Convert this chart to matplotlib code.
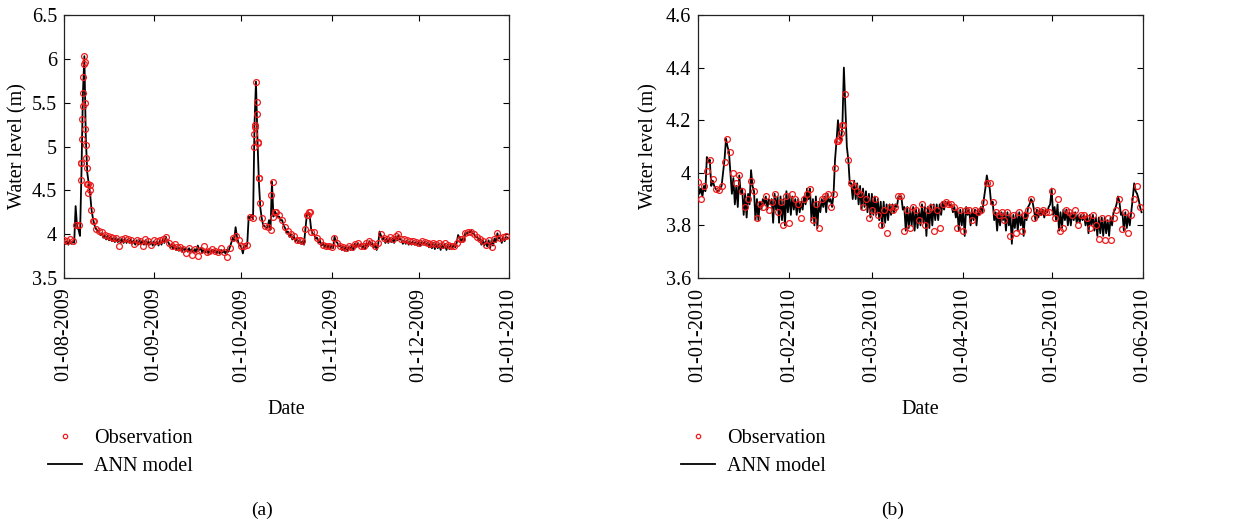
import numpy as np
import matplotlib
matplotlib.use("Agg")
import matplotlib.pyplot as plt
import matplotlib.dates as mdates
from matplotlib.ticker import FuncFormatter, MultipleLocator

plt.rcParams['font.family'] = ['Liberation Serif', 'DejaVu Serif']

# ---- panel (a): 01-08-2009 .. 01-01-2010, one value per day ----
start_a = np.datetime64('2009-08-01')
end_a = np.datetime64('2010-01-01')

obs_a = [3.93, 3.92, 3.94, 3.92, 4.11, 4.10, 4.81, 6.03, 4.57, 4.50,
         4.15, 4.06, 4.04, 4.02, 3.99, 3.98, 3.97, 3.96, 3.96, 3.87,
         3.95, 3.96, 3.94, 3.93, 3.89, 3.93, 3.92, 3.87, 3.94, 3.92,
         3.88, 3.93, 3.92, 3.93, 3.94, 3.97, 3.90, 3.86, 3.89, 3.85,
         3.85, 3.83, 3.79, 3.84, 3.76, 3.83, 3.75, 3.82, 3.87, 3.80,
         3.81, 3.83, 3.81, 3.80, 3.84, 3.80, 3.74, 3.84, 3.96, 3.98,
         3.93, 3.86, 3.87, 3.88, 4.20, 4.18, 5.74, 4.64, 4.19, 4.09,
         4.08, 4.05, 4.20, 4.25, 4.22, 4.16, 4.08, 4.04, 4.00, 3.98,
         3.93, 3.93, 3.92, 4.06, 4.22, 4.03, 4.02, 3.96, 3.92, 3.88,
         3.87, 3.87, 3.85, 3.96, 3.90, 3.87, 3.85, 3.84, 3.87, 3.85,
         3.89, 3.90, 3.87, 3.87, 3.90, 3.92, 3.90, 3.87, 3.90, 4.00,
         3.96, 3.94, 3.97, 3.95, 3.98, 4.00, 3.94, 3.94, 3.93, 3.92,
         3.92, 3.91, 3.90, 3.92, 3.91, 3.90, 3.89, 3.90, 3.89, 3.90,
         3.88, 3.90, 3.88, 3.87, 3.87, 3.90, 3.94, 3.95, 4.01, 4.02,
         4.03, 4.00, 3.97, 3.95, 3.92, 3.88, 3.93, 3.85, 3.95, 4.01,
         3.96, 3.97, 3.98]

# extra observations during the two floods (day offset, level)
obs_a_extra_day = [5.7, 6.0, 6.2, 6.3, 6.45, 6.55, 6.7, 6.85, 7.05, 7.2,
                   7.35, 7.55, 7.7, 7.9, 8.1, 8.25, 8.9, 9.4, 10.2,
                   65.2, 65.35, 65.5, 65.6, 66.2, 66.3, 66.6, 66.75, 66.95,
                   67.3, 71.3, 71.7, 72.5, 83.5, 84.3, 84.7]
obs_a_extra_val = [4.62, 4.81, 5.09, 5.31, 5.46, 5.61, 5.79, 5.94, 5.96, 5.50,
                   5.20, 5.02, 4.87, 4.75, 4.57, 4.47, 4.56, 4.28, 4.15,
                   4.99, 5.14, 5.22, 5.25, 5.51, 5.37, 5.05, 5.04, 4.64,
                   4.36, 4.45, 4.60, 4.25, 4.22, 4.25, 4.25]

# ANN model at 00h and 12h of each day
ann_a = [3.93, 3.92, 3.93, 3.92, 4.32, 4.05, 4.70, 6.03, 4.70, 4.45,
         4.17, 4.06, 4.03, 4.01, 3.99, 3.98, 3.97, 3.96, 3.96, 3.95,
         3.95, 3.95, 3.94, 3.94, 3.93, 3.93, 3.93, 3.93, 3.93, 3.92,
         3.92, 3.92, 3.92, 3.93, 3.94, 3.97, 3.90, 3.88, 3.88, 3.86,
         3.85, 3.85, 3.84, 3.84, 3.83, 3.83, 3.87, 3.84, 3.83, 3.82,
         3.82, 3.82, 3.82, 3.81, 3.82, 3.81, 3.82, 3.85, 3.96, 4.08,
         3.90, 3.85, 3.87, 3.88, 4.18, 4.17, 5.74, 4.60, 4.18, 4.09,
         4.08, 4.05, 4.20, 4.23, 4.20, 4.16, 4.07, 4.03, 4.00, 3.98,
         3.95, 3.93, 3.92, 4.06, 4.25, 4.05, 4.00, 3.96, 3.93, 3.90,
         3.89, 3.88, 3.88, 3.97, 3.90, 3.87, 3.86, 3.86, 3.86, 3.87,
         3.89, 3.90, 3.88, 3.87, 3.90, 3.92, 3.90, 3.88, 3.88, 3.98,
         3.96, 3.95, 3.96, 3.95, 3.97, 3.99, 3.94, 3.93, 3.93, 3.92,
         3.92, 3.91, 3.91, 3.92, 3.91, 3.90, 3.90, 3.90, 3.90, 3.89,
         3.89, 3.89, 3.88, 3.88, 3.88, 3.90, 3.96, 3.95, 4.02, 4.03,
         4.04, 4.00, 3.97, 3.95, 3.93, 3.92, 3.93, 3.93, 3.95, 4.01,
         3.96, 3.97, 3.97]
ann_a_noon = [3.89, 3.88, 3.89, 3.90, 4.08, 3.98, 5.60, 5.10, 4.58, 4.27,
              4.10, 4.04, 3.99, 3.96, 3.94, 3.93, 3.92, 3.91, 3.91, 3.90,
              3.90, 3.90, 3.90, 3.89, 3.88, 3.88, 3.89, 3.88, 3.88, 3.88,
              3.87, 3.88, 3.87, 3.88, 3.90, 3.92, 3.85, 3.83, 3.82, 3.81,
              3.80, 3.81, 3.80, 3.80, 3.79, 3.79, 3.82, 3.79, 3.79, 3.78,
              3.78, 3.79, 3.78, 3.78, 3.79, 3.78, 3.80, 3.90, 3.93, 3.96,
              3.87, 3.78, 3.86, 4.20, 4.22, 5.25, 5.10, 4.30, 4.10, 4.07,
              4.16, 4.60, 4.26, 4.20, 4.16, 4.10, 4.02, 3.97, 3.94, 3.92,
              3.90, 3.89, 3.88, 4.22, 4.20, 4.00, 3.95, 3.90, 3.87, 3.85,
              3.84, 3.83, 3.84, 3.92, 3.86, 3.82, 3.81, 3.81, 3.82, 3.82,
              3.85, 3.86, 3.84, 3.83, 3.86, 3.88, 3.85, 3.82, 4.03, 3.94,
              3.90, 3.90, 3.91, 3.90, 3.93, 3.94, 3.89, 3.89, 3.88, 3.88,
              3.88, 3.87, 3.87, 3.88, 3.87, 3.85, 3.84, 3.83, 3.84, 3.82,
              3.84, 3.82, 3.83, 3.84, 3.85, 3.99, 3.92, 3.92, 4.00, 4.02,
              4.01, 3.97, 3.93, 3.88, 3.87, 3.86, 3.84, 3.87, 3.91, 3.95,
              3.90, 3.92, 3.96]

# ---- panel (b): 01-01-2010 .. 01-06-2010 ----
start_b = np.datetime64('2010-01-01')
end_b = np.datetime64('2010-06-01')

obs_b = [3.965, 3.90, 3.95, 4.005, 4.05, 3.975, 3.94, 3.935, 3.95, 4.04,
         4.13, 4.08, 4.00, 3.96, 3.99, 3.93, 3.87, 3.90, 3.97, 3.93,
         3.83, 3.88, 3.87, 3.91, 3.86, 3.89, 3.92, 3.85, 3.89, 3.80,
         3.91, 3.81, 3.92, 3.90, 3.88, 3.83, 3.90, 3.92, 3.94, 3.82,
         3.88, 3.79, 3.90, 3.91, 3.92, 3.87, 3.92, 4.12, 4.13, 4.18,
         4.30, 4.05, 3.96, 3.95, 3.93, 3.92, 3.87, 3.90, 3.83, 3.86,
         3.90, 3.84, 3.80, 3.86, 3.77, 3.87, 3.86, 3.87, 3.91, 3.91,
         3.78, 3.86, 3.79, 3.87, 3.86, 3.82, 3.88, 3.80, 3.86, 3.87,
         3.78, 3.86, 3.79, 3.88, 3.89, 3.88, 3.88, 3.87, 3.79, 3.86,
         3.78, 3.86, 3.86, 3.82, 3.86, 3.85, 3.86, 3.89, 3.96, 3.96,
         3.89, 3.85, 3.84, 3.85, 3.82, 3.85, 3.76, 3.84, 3.77, 3.85,
         3.78, 3.84, 3.86, 3.90, 3.83, 3.86, 3.85, 3.86, 3.85, 3.85,
         3.93, 3.83, 3.90, 3.78, 3.79, 3.86, 3.85, 3.84, 3.86, 3.80,
         3.84, 3.84, 3.83, 3.79, 3.84, 3.80, 3.75, 3.83, 3.745, 3.83,
         3.745, 3.83, 3.86, 3.90, 3.785, 3.85, 3.77, 3.84, 3.90, 3.95,
         3.87]
obs_b_extra_day = [46.6, 47.4, 48.6, 49.3]
obs_b_extra_val = [4.02, 4.12, 4.15, 4.18]

ann_b = [3.96, 3.94, 3.95, 4.06, 4.05, 3.97, 3.94, 3.93, 3.95, 4.05,
         4.10, 4.00, 3.98, 3.95, 3.99, 3.94, 3.92, 3.92, 4.01, 3.93,
         3.90, 3.89, 3.90, 3.91, 3.90, 3.90, 3.92, 3.91, 3.91, 3.90,
         3.93, 3.92, 3.91, 3.90, 3.90, 3.89, 3.91, 3.94, 3.94, 3.90,
         3.91, 3.89, 3.90, 3.91, 3.92, 3.90, 3.92, 4.12, 4.14, 4.18,
         4.25, 4.05, 3.96, 3.97, 3.96, 3.95, 3.94, 3.93, 3.92, 3.92,
         3.91, 3.90, 3.89, 3.89, 3.88, 3.88, 3.88, 3.88, 3.91, 3.91,
         3.87, 3.87, 3.86, 3.87, 3.86, 3.86, 3.88, 3.87, 3.87, 3.88,
         3.88, 3.88, 3.88, 3.89, 3.89, 3.89, 3.88, 3.87, 3.86, 3.86,
         3.86, 3.87, 3.86, 3.86, 3.86, 3.86, 3.87, 3.90, 3.99, 3.94,
         3.89, 3.85, 3.85, 3.85, 3.85, 3.85, 3.84, 3.84, 3.85, 3.85,
         3.84, 3.85, 3.87, 3.90, 3.86, 3.86, 3.86, 3.86, 3.86, 3.87,
         3.94, 3.87, 3.88, 3.85, 3.86, 3.86, 3.85, 3.85, 3.85, 3.84,
         3.84, 3.84, 3.84, 3.84, 3.84, 3.83, 3.83, 3.83, 3.83, 3.82,
         3.83, 3.85, 3.88, 3.89, 3.85, 3.85, 3.84, 3.85, 3.96, 3.92,
         3.87]
ann_b_noon = [3.92, 3.91, 3.93, 4.04, 3.95, 3.95, 3.93, 3.94, 4.00, 4.13,
              4.08, 3.92, 3.88, 3.87, 3.92, 3.84, 3.83, 3.88, 3.95, 3.82,
              3.82, 3.86, 3.88, 3.86, 3.88, 3.81, 3.86, 3.81, 3.82, 3.80,
              3.85, 3.84, 3.86, 3.84, 3.85, 3.86, 3.88, 3.90, 3.82, 3.80,
              3.79, 3.85, 3.87, 3.85, 3.89, 3.87, 4.05, 4.20, 4.12, 4.40,
              4.10, 3.96, 3.90, 3.90, 3.88, 3.86, 3.87, 3.85, 3.83, 3.84,
              3.84, 3.82, 3.79, 3.81, 3.82, 3.84, 3.85, 3.87, 3.91, 3.86,
              3.78, 3.79, 3.80, 3.78, 3.79, 3.80, 3.81, 3.76, 3.79, 3.80,
              3.82, 3.82, 3.84, 3.86, 3.88, 3.87, 3.85, 3.83, 3.78, 3.80,
              3.76, 3.84, 3.80, 3.82, 3.80, 3.84, 3.85, 3.94, 3.96, 3.88,
              3.82, 3.78, 3.80, 3.82, 3.78, 3.80, 3.73, 3.79, 3.78, 3.80,
              3.76, 3.82, 3.88, 3.89, 3.82, 3.83, 3.84, 3.83, 3.85, 3.88,
              3.84, 3.82, 3.78, 3.79, 3.82, 3.80, 3.80, 3.82, 3.81, 3.81,
              3.82, 3.80, 3.77, 3.80, 3.78, 3.76, 3.77, 3.76, 3.77, 3.76,
              3.80, 3.86, 3.91, 3.84, 3.78, 3.79, 3.80, 3.90, 3.93, 3.90,
              3.85]


def to_dates(start, days):
    mins = np.round(np.asarray(days, dtype=float) * 1440).astype(int)
    return start + mins.astype('timedelta64[m]')


def draw_panel(ax, start, end, obs, ex_day, ex_val, ann, ann_noon, ylim, ystep):
    n = len(ann)
    t = np.empty(2 * n)
    t[0::2] = np.arange(n)
    t[1::2] = np.arange(n) + 0.5
    v = np.empty(2 * n)
    v[0::2] = ann
    v[1::2] = ann_noon
    ax.plot(to_dates(start, t), v, color='black', lw=1.3, zorder=2,
            label='ANN model')
    od = np.concatenate([np.arange(len(obs)), ex_day])
    ov = np.concatenate([obs, ex_val])
    ax.plot(to_dates(start, od), ov, ls='none', marker='o', ms=4.2,
            mfc='none', mec='#ee1c1c', mew=0.9, zorder=3, label='Observation')
    ax.set_xlim(start, end)
    ax.set_ylim(*ylim)
    ax.yaxis.set_major_locator(MultipleLocator(ystep))
    ax.yaxis.set_major_formatter(FuncFormatter(lambda y, p: f"{y:g}"))
    ax.xaxis.set_major_locator(mdates.MonthLocator())
    ax.xaxis.set_major_formatter(mdates.DateFormatter('%d-%m-%Y'))
    ax.tick_params(direction='in', top=True, right=True, length=4,
                   width=0.8, labelsize=14.5, pad=5)
    ax.tick_params(axis='x', labelrotation=90, pad=7)
    for s in ax.spines.values():
        s.set_linewidth(0.9)
        s.set_color('#222222')
    ax.set_xlabel('Date', fontsize=14.5)
    ax.xaxis.set_label_coords(0.5, -0.462)
    ax.set_ylabel('Water level (m)', fontsize=14.5)


fig = plt.figure(figsize=(12.5, 5.24), dpi=100)
W, H = 1250, 524
ax_a = fig.add_axes([64 / W, 1 - 278 / H, 445 / W, 263 / H])
ax_b = fig.add_axes([698 / W, 1 - 278 / H, 445 / W, 263 / H])

draw_panel(ax_a, start_a, end_a, obs_a, obs_a_extra_day, obs_a_extra_val,
           ann_a, ann_a_noon, (3.5, 6.5), 0.5)
draw_panel(ax_b, start_b, end_b, obs_b, obs_b_extra_day, obs_b_extra_val,
           ann_b, ann_b_noon, (3.6, 4.6), 0.2)
ax_a.yaxis.set_label_coords(-0.083, 0.5)
ax_b.yaxis.set_label_coords(-0.088, 0.5)

for ax, lx, tag, tx in [(ax_a, 48, '(a)', 262), (ax_b, 681, '(b)', 893)]:
    h, l = ax.get_legend_handles_labels()
    ax.legend(h[::-1], l[::-1], loc='upper left',
              bbox_to_anchor=(lx / W, 1 - 429 / H),
              bbox_transform=fig.transFigure, frameon=False, fontsize=14.5,
              handlelength=1.7, handletextpad=0.6, labelspacing=0.45,
              borderpad=0, borderaxespad=0, markerscale=0.75)
    fig.text(tx / W, 1 - 510 / H, tag, ha='center', va='center', fontsize=14)

fig.savefig('out.png', dpi=100)
